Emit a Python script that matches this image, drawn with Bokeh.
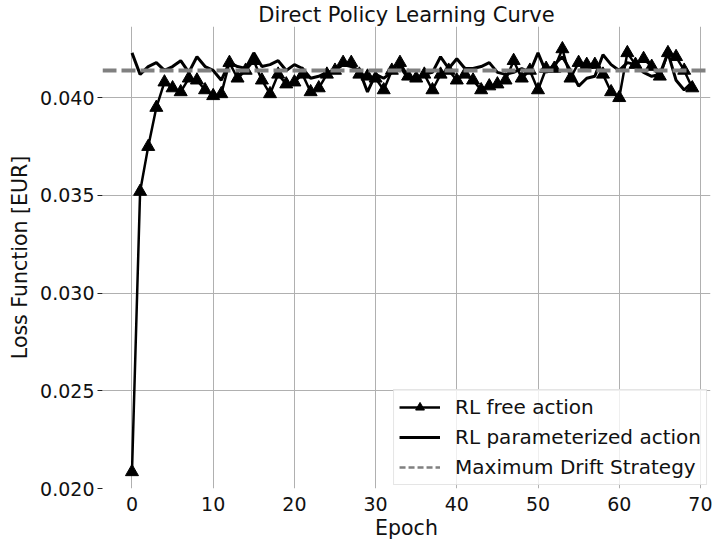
from bokeh.plotting import figure
from bokeh.models import Range1d, FixedTicker, PrintfTickFormatter, Span, Legend, LegendItem
from bokeh.embed import file_html
from bokeh.resources import INLINE

epochs = list(range(70))

free_action = [
    0.02085, 0.0352, 0.0375, 0.0395, 0.0408, 0.0405, 0.0403, 0.0410, 0.0409, 0.0404,
    0.0401, 0.0402, 0.0418, 0.0410, 0.0414, 0.0419, 0.0409, 0.0402, 0.0412, 0.0407,
    0.0408, 0.0412, 0.0403, 0.0405, 0.0412, 0.0414, 0.0418, 0.0418, 0.0412, 0.0411,
    0.0410, 0.0404, 0.0414, 0.0418, 0.0411, 0.0410, 0.0412, 0.0404, 0.0412, 0.0414,
    0.0409, 0.0412, 0.0409, 0.0404, 0.0406, 0.0407, 0.0409, 0.0419, 0.0410, 0.0414,
    0.0404, 0.0415, 0.0415, 0.0425, 0.0410, 0.0418, 0.0417, 0.0417, 0.0412, 0.0403,
    0.0400, 0.0423, 0.0417, 0.0420, 0.0416, 0.0411, 0.0423, 0.0421, 0.0414, 0.0405,
]

parameterized_action = [
    0.0423, 0.0412, 0.0416, 0.0418, 0.0414, 0.0416, 0.0419, 0.0413, 0.0421, 0.0416,
    0.0414, 0.0409, 0.0418, 0.0416, 0.0415, 0.0423, 0.0416, 0.0417, 0.0419, 0.0414,
    0.0417, 0.0415, 0.0410, 0.0411, 0.0413, 0.0414, 0.0417, 0.0416, 0.0414, 0.0403,
    0.0412, 0.0410, 0.0413, 0.0416, 0.0410, 0.0409, 0.0412, 0.0413, 0.0421, 0.0415,
    0.0420, 0.0415, 0.0415, 0.0416, 0.0418, 0.0413, 0.0412, 0.0413, 0.0415, 0.0413,
    0.0423, 0.0413, 0.0417, 0.0421, 0.0414, 0.0406, 0.0410, 0.0411, 0.0422, 0.0417,
    0.0414, 0.0418, 0.0417, 0.0413, 0.0411, 0.0412, 0.0423, 0.0409, 0.0404, 0.0408,
]

max_drift = 0.0414

x_ticks = [0, 10, 20, 30, 40, 50, 60, 70]
y_ticks = [0.020, 0.025, 0.030, 0.035, 0.040]

FONT = "DejaVu Sans"
TXT = "#111111"

p = figure(
    width=712, height=542,
    output_backend="svg", toolbar_location=None,
    x_range=Range1d(-3.63, 71.24), y_range=Range1d(0.0200, 0.04365),
    min_border_left=102, min_border_right=2, min_border_top=0, min_border_bottom=52,
    title="Direct Policy Learning Curve",
)
p.outline_line_color = None
p.background_fill_color = "white"
p.border_fill_color = "white"

p.title.text_font = FONT
p.title.text_font_size = "21px"
p.title.text_font_style = "normal"
p.title.align = "center"
p.title.text_color = TXT
p.title.standoff = 0

# grid
for g in (p.xgrid, p.ygrid):
    g.grid_line_color = "#b0b0b0"
    g.grid_line_width = 1
p.xgrid.ticker = FixedTicker(ticks=x_ticks)
p.ygrid.ticker = FixedTicker(ticks=y_ticks)

# axes
p.xaxis.ticker = FixedTicker(ticks=x_ticks)
p.yaxis.ticker = FixedTicker(ticks=y_ticks)
p.yaxis.formatter = PrintfTickFormatter(format="%.3f")
for ax in (p.xaxis[0], p.yaxis[0]):
    ax.axis_line_color = None
    ax.minor_tick_line_color = None
    ax.major_label_text_font = FONT
    ax.major_label_text_font_size = "19px"
    ax.major_label_text_color = TXT
    ax.axis_label_text_font = FONT
    ax.axis_label_text_font_size = "20.5px"
    ax.axis_label_text_font_style = "normal"
    ax.axis_label_text_color = TXT
p.xaxis.major_tick_line_color = None
p.xaxis.major_tick_out = 0
p.xaxis.major_label_standoff = 8
p.xaxis.axis_label = "Epoch"
p.xaxis.axis_label_standoff = 2
p.yaxis.major_tick_line_color = "#222222"
p.yaxis.major_tick_out = 5
p.yaxis.major_tick_in = 0
p.yaxis.major_label_standoff = 3
p.yaxis.axis_label = "Loss Function [EUR]"
p.yaxis.axis_label_standoff = 5

# data
drift_span = Span(location=max_drift, dimension="width", line_color="#808080",
                  line_width=4, line_dash="14 5")
p.add_layout(drift_span)

r_free_line = p.line(epochs, free_action, line_color="black", line_width=2.5)
r_free_pts = p.scatter(epochs, free_action, marker="triangle", size=13,
                       fill_color="black", line_color="black")
r_param = p.line(epochs, parameterized_action, line_color="black", line_width=3)
# legend-only sample for the drift strategy (single NaN point, draws nothing in the plot)
r_drift_legend = p.line([epochs[0]], [float("nan")], line_color="#808080",
                        line_width=2.5, line_dash="6 3")

legend = Legend(items=[
    LegendItem(label="RL free action", renderers=[r_free_line, r_free_pts]),
    LegendItem(label="RL parameterized action", renderers=[r_param]),
    LegendItem(label="Maximum Drift Strategy", renderers=[r_drift_legend]),
])
legend.location = "bottom_right"
legend.margin = 3
legend.padding = 5
legend.spacing = 6
legend.label_height = 22
legend.glyph_height = 22
legend.glyph_width = 41
legend.label_standoff = 15
legend.label_text_font = FONT
legend.label_text_font_size = "20px"
legend.label_text_color = TXT
legend.border_line_color = "#cccccc"
legend.border_line_width = 1
legend.background_fill_color = "white"
legend.background_fill_alpha = 0.8
p.add_layout(legend, "center")

open("out.html", "w").write(file_html(p, INLINE))
